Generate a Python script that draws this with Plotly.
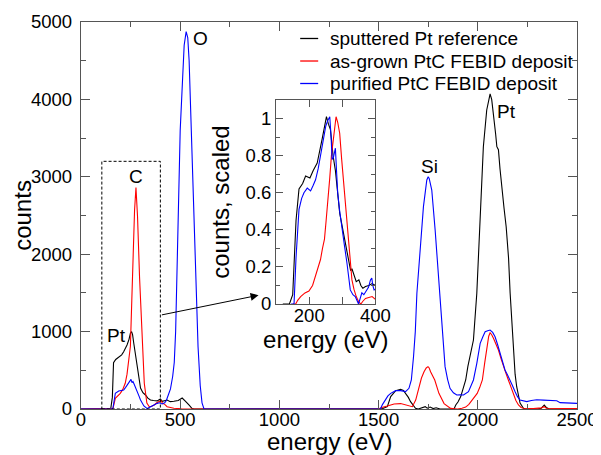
import plotly.graph_objects as go

FONT = "Liberation Sans, Arial, Helvetica, sans-serif"

# ---------------- main spectra (energy in eV, counts) ----------------
pt_ref_E = [0, 100, 140, 150, 158, 164, 175, 190, 205, 215, 232, 242, 249, 255, 260, 266, 275, 283, 292, 300,
            312, 325, 337, 350, 365, 384, 400, 410, 434, 450, 468, 490, 510, 520, 527, 544, 560, 570,
            1500, 1520, 1544, 1561, 1586, 1600, 1611, 1625, 1636, 1650, 1661, 1675, 1686, 1700, 1720, 1735,
            1745, 1760, 1775, 1790, 1810, 1880, 1889, 1900, 1914, 1930, 1939, 1950, 1961, 1978, 1995, 2012,
            2028, 2045, 2055, 2062, 2070, 2079, 2090, 2096, 2104, 2112, 2121, 2132, 2143, 2155, 2163, 2172,
            2179, 2188, 2196, 2205, 2213, 2230, 2240, 2300, 2320, 2335, 2345, 2360, 2500]
pt_ref_C = [0, 0, 0, 5, 150, 598, 640, 676, 700, 740, 827, 900, 978, 1000, 960, 850, 700, 504, 380, 271,
            210, 181, 140, 116, 110, 105, 130, 100, 116, 95, 100, 110, 142, 120, 100, 52, 5, 0,
            0, 5, 30, 160, 237, 250, 254, 240, 203, 150, 95, 40, 9, 0, 15, 30,
            10, 25, 5, 15, 0, 0, 52, 90, 160, 280, 375, 550, 676, 891, 1496, 2528,
            3389, 3863, 4000, 4070, 4000, 3824, 3550, 3389, 3350, 3100, 2829, 2600, 2355, 1950, 1496, 1100,
            723, 450, 288, 150, 77, 10, 0, 0, 10, 50, 20, 0, 0]

asgrown_E = [0, 155, 161, 173, 185, 198, 210, 223, 232, 240, 249, 256, 262, 270, 277, 285, 295, 307, 319, 332,
             344, 356, 369, 382, 395, 403, 411, 422, 434, 450, 468, 494, 510,
             1500, 1516, 1544, 1578, 1611, 1645, 1670, 1687, 1704, 1716, 1729, 1740, 1749, 1755, 1762, 1783,
             1804, 1818, 1830, 1863, 1897, 1920, 1939, 1955, 1972, 1997, 2010, 2023, 2035, 2045, 2055, 2062,
             2070, 2079, 2090, 2104, 2117, 2129, 2142, 2154, 2167, 2179, 2192, 2205, 2218, 2230, 2280, 2320,
             2335, 2345, 2400, 2500]
asgrown_C = [0, 0, 5, 138, 170, 202, 250, 332, 450, 594, 810, 1400, 2054, 2571, 2860, 2485, 1710, 934, 332, 77,
             30, 35, 52, 80, 95, 110, 73, 60, 30, 20, 10, 5, 0,
             0, 20, 39, 65, 70, 50, 30, 116, 288, 400, 482, 530, 547, 530, 482, 375,
             202, 120, 70, 8, 0, 10, 25, 60, 116, 202, 280, 375, 600, 805, 940, 985,
             960, 913, 850, 762, 650, 547, 460, 375, 280, 181, 110, 52, 20, 10, 5, 15,
             30, 10, 5, 5]

purified_E = [0, 155, 161, 173, 190, 205, 215, 225, 232, 243, 252, 257, 262, 268, 274, 285, 292, 300, 310, 317,
              334, 345, 359, 372, 384, 395, 409, 422, 430, 440, 451, 462, 470, 477, 484, 492, 500, 509, 520,
              530, 538, 545, 554, 567, 578, 590, 601, 610, 620,
              1500, 1509, 1520, 1533, 1547, 1561, 1586, 1611, 1636, 1653, 1665, 1676, 1685, 1693, 1709, 1726,
              1743, 1750, 1755, 1768, 1785, 1802, 1819, 1835, 1848, 1860, 1877, 1894, 1910, 1928, 1953, 1978,
              1995, 2012, 2025, 2037, 2050, 2062, 2075, 2087, 2100, 2112, 2125, 2137, 2150, 2163, 2175, 2188,
              2200, 2213, 2230, 2247, 2270, 2297, 2330, 2360, 2398, 2415, 2450, 2500]
purified_C = [0, 0, 10, 202, 232, 240, 245, 280, 310, 350, 383, 340, 355, 320, 288, 224, 170, 116, 70, 40,
              5, 20, 40, 60, 73, 80, 65, 80, 110, 181, 260, 420, 600, 1000, 1800, 2900, 3600, 4100, 4700,
              4875, 4800, 4500, 3800, 2600, 1700, 800, 300, 80, 0,
              0, 0, 60, 116, 170, 202, 237, 237, 225, 267, 375, 676, 1000, 1495, 2097, 2614,
              2959, 3000, 2980, 2829, 2313, 1667, 1020, 547, 380, 267, 210, 181, 185, 181, 224, 375,
              590, 849, 930, 999, 1010, 1020, 990, 934, 830, 720, 610, 504, 440, 375, 300, 224,
              160, 116, 107, 95, 110, 120, 115, 112, 107, 82, 78, 73]

# ---------------- inset spectra (energy in eV, scaled counts) ----------------
in_pt_E = [120, 140, 150, 160, 169, 180, 189, 202, 212, 224, 239, 246, 252, 258, 264, 272, 279, 292, 306, 319,
           325, 329, 336, 342, 350, 356, 362, 370, 380, 390, 400]
in_pt_C = [0, 0, 0.05, 0.45, 0.62, 0.65, 0.69, 0.68, 0.72, 0.76, 0.89, 0.95, 1.01, 0.97, 0.94, 0.8, 0.72, 0.49,
           0.35, 0.22, 0.18, 0.19, 0.15, 0.12, 0.13, 0.1, 0.085, 0.094, 0.1, 0.11, 0.1]

in_ag_E = [150, 159, 165, 174, 187, 199, 210, 219, 227, 234, 240, 246, 251, 256, 262, 267, 274, 281, 286, 292,
           298, 304, 310, 316, 322, 329, 335, 342, 350, 356, 362, 370, 380, 390, 400]
in_ag_C = [0, 0, 0.02, 0.04, 0.06, 0.07, 0.1, 0.15, 0.2, 0.24, 0.3, 0.35, 0.45, 0.54, 0.68, 0.8, 0.92, 1.01,
           0.98, 0.92, 0.78, 0.65, 0.5, 0.38, 0.25, 0.13, 0.08, 0.04, 0.01, 0.0, 0.015, 0.03, 0.035, 0.04, 0.025]

in_pu_E = [145, 154, 160, 169, 177, 184, 194, 204, 212, 219, 227, 234, 244, 250, 256, 262, 266, 269, 273, 279,
           283, 286, 292, 299, 306, 314, 319, 324, 332, 339, 344, 349, 354, 359, 365, 372, 379, 385, 389, 392,
           396, 400]
in_pu_C = [0, 0, 0.25, 0.51, 0.57, 0.6, 0.625, 0.61, 0.64, 0.67, 0.73, 0.8, 0.92, 0.96, 0.99, 1.01, 0.9, 0.78,
           0.79, 0.84, 0.7, 0.6, 0.5, 0.42, 0.32, 0.22, 0.14, 0.076, 0.05, 0.04, 0.02, 0.0, 0.03, 0.06, 0.05,
           0.07, 0.09, 0.13, 0.14, 0.1, 0.076, 0.08]

series_names = ["sputtered Pt reference", "as-grown PtC FEBID deposit", "purified PtC FEBID deposit"]
series_colors = ["#000000", "#ff0000", "#0000ff"]

fig = go.Figure()
main_data = [(pt_ref_E, pt_ref_C), (asgrown_E, asgrown_C), (purified_E, purified_C)]
inset_data = [(in_pt_E, in_pt_C), (in_ag_E, in_ag_C), (in_pu_E, in_pu_C)]

for (ex, cy), name, col in zip(main_data, series_names, series_colors):
    fig.add_trace(go.Scatter(x=ex, y=cy, mode="lines", name=name, showlegend=False,
                             line=dict(color=col, width=1.1), xaxis="x", yaxis="y"))
for (ex, cy), name, col in zip(inset_data, series_names, series_colors):
    fig.add_trace(go.Scatter(x=ex, y=cy, mode="lines", name=name, showlegend=False,
                             line=dict(color=col, width=1.1), xaxis="x2", yaxis="y2"))

axcol = "#555555"
tickfont = dict(family=FONT, size=18.5, color="#000")
titlefont = dict(family=FONT, size=24, color="#000")

# the page body adds an 8 px offset; the figure is sized to compensate
fig.update_layout(
    width=593, height=447,
    margin=dict(l=72.7, r=24, t=14, b=46, pad=0),
    plot_bgcolor="white", paper_bgcolor="white",
    font=dict(family=FONT, color="#000"),
    showlegend=False,
    xaxis=dict(domain=[0, 1], range=[0, 2500], dtick=500, tick0=0, showgrid=False, zeroline=False,
               automargin=False, ticklabelstandoff=-6,
               showline=True, linecolor=axcol, linewidth=1.3, mirror="ticks", ticks="inside",
               ticklen=9, tickcolor=axcol, tickfont=tickfont,
               minor=dict(dtick=250, ticks="inside", ticklen=5, tickcolor=axcol, showgrid=False)),
    yaxis=dict(domain=[0, 1], range=[0, 5000], dtick=1000, tick0=0, showgrid=False, zeroline=False,
               automargin=False, ticklabelstandoff=4,
               showline=True, linecolor=axcol, linewidth=1.3, mirror="ticks", ticks="inside",
               ticklen=9, tickcolor=axcol, tickfont=tickfont,
               minor=dict(dtick=500, ticks="inside", ticklen=5, tickcolor=axcol, showgrid=False)),
    xaxis2=dict(domain=[0.3935, 0.5936], anchor="y2", range=[100, 400], dtick=200, tick0=0,
                automargin=False, ticklabelstandoff=-5,
                showgrid=False, zeroline=False, showline=True, linecolor=axcol, linewidth=1.3,
                mirror="ticks", ticks="inside", ticklen=7, tickcolor=axcol, tickfont=tickfont,
                minor=dict(dtick=100, ticks="inside", ticklen=7, tickcolor=axcol, showgrid=False),
                title=dict(text="energy (eV)", font=titlefont, standoff=0)),
    yaxis2=dict(domain=[0.2713, 0.7984], anchor="x2", range=[0, 1.1], dtick=0.2, tick0=0,
                automargin=False,
                showgrid=False, zeroline=False, showline=True, linecolor=axcol, linewidth=1.3,
                mirror="ticks", ticks="inside", ticklen=7, tickcolor=axcol, tickfont=tickfont,
                minor=dict(dtick=0.1, ticks="inside", ticklen=4, tickcolor=axcol, showgrid=False),
                title=dict(text="counts, scaled", font=titlefont, standoff=9)),
)

# main axis titles
fig.add_annotation(xref="paper", yref="paper", x=0.5, y=-0.0827, xanchor="center", yanchor="middle",
                   text="energy (eV)", showarrow=False, font=titlefont)
fig.add_annotation(xref="paper", yref="paper", x=-0.1183, y=0.5, xanchor="center", yanchor="middle",
                   text="counts", textangle=-90, showarrow=False, font=titlefont)

# custom legend (short line samples + text), in paper coordinates
leg_rows_y = [0.9574, 0.8992, 0.8411]
for name, col, ly in zip(series_names, series_colors, leg_rows_y):
    fig.add_shape(type="line", xref="paper", yref="paper", x0=0.4419, x1=0.4782, y0=ly, y1=ly,
                  line=dict(color=col, width=1.3))
    fig.add_annotation(xref="paper", yref="paper", x=0.4982, y=ly, xanchor="left", yanchor="middle",
                       text=name, showarrow=False, font=dict(family=FONT, size=19, color="#000"))

# dashed box marking the zoomed region, and the arrow to the inset
fig.add_shape(type="rect", xref="x", yref="y", x0=105, x1=400, y0=0, y1=3200,
              line=dict(color="#000", width=1, dash="3px,2px"))
fig.add_annotation(xref="x", yref="y", axref="x", ayref="y", x=895, y=1470, ax=400, ay=1212,
                   text="", showarrow=True, arrowhead=2, arrowsize=1.6, arrowwidth=1, arrowcolor="#000")

# peak labels
labels = [("O", 601, 4790), ("C", 277, 3000), ("Pt", 181, 956), ("Si", 1756, 3130), ("Pt", 2143, 3840)]
for t, lx, ly in labels:
    fig.add_annotation(xref="x", yref="y", x=lx, y=ly, text=t, showarrow=False,
                       font=dict(family=FONT, size=19, color="#000"))

fig.write_html("out.html")
